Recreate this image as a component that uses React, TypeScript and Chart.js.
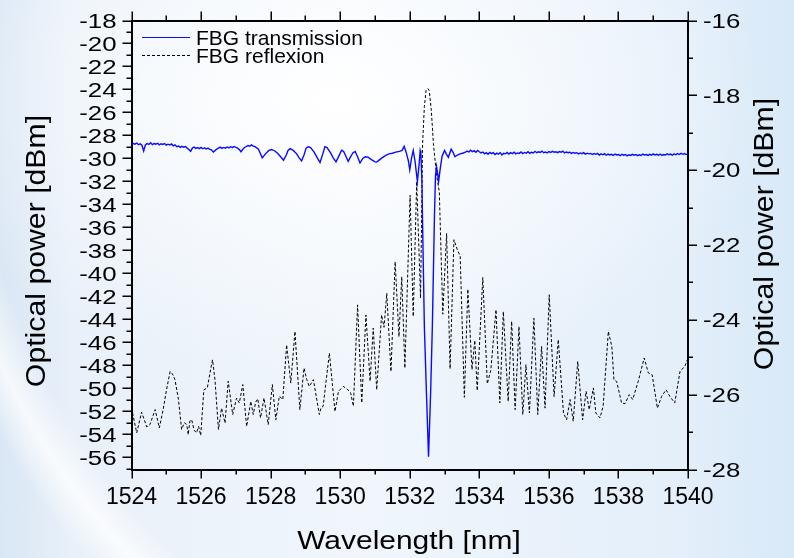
import React, { useEffect, useRef } from "react";
import { Chart, registerables } from "chart.js";

Chart.register(...registerables);

// ---- data ----
const transWl = [
  1524.0, 1524.05, 1524.1, 1524.15, 1524.2, 1524.25, 1524.3, 1524.35, 1524.4, 1524.45,
  1524.5, 1524.55, 1524.6, 1524.65, 1524.7, 1524.75, 1524.8, 1524.85, 1524.9, 1524.95,
  1525.0, 1525.05, 1525.1, 1525.15, 1525.2, 1525.25, 1525.3, 1525.35, 1525.4, 1525.45,
  1525.5, 1525.55, 1525.6, 1525.65, 1525.7, 1525.75, 1525.8, 1525.85, 1525.9, 1525.95,
  1526.0, 1526.05, 1526.1, 1526.15, 1526.2, 1526.25, 1526.3, 1526.35, 1526.4, 1526.45,
  1526.5, 1526.55, 1526.6, 1526.65, 1526.7, 1526.75, 1526.8, 1526.85, 1526.9, 1526.95,
  1527.0, 1527.05, 1527.1, 1527.15, 1527.2, 1527.25, 1527.3, 1527.35, 1527.4, 1527.45,
  1527.5, 1527.55, 1527.65, 1527.76, 1527.85, 1527.95,
  1528.03, 1528.12, 1528.2, 1528.3, 1528.37, 1528.45, 1528.5, 1528.56, 1528.65, 1528.75, 1528.82, 1528.89, 1528.96,
  1529.02, 1529.08, 1529.15, 1529.25, 1529.35, 1529.42, 1529.5, 1529.56, 1529.62, 1529.72, 1529.8, 1529.88, 1529.96,
  1530.04, 1530.1, 1530.17, 1530.23, 1530.3, 1530.37, 1530.43, 1530.5, 1530.57, 1530.65, 1530.72, 1530.8, 1530.9,
  1531.0, 1531.05, 1531.12, 1531.2, 1531.3, 1531.4, 1531.5, 1531.6, 1531.7, 1531.78, 1531.84, 1531.9, 1531.96,
  1532.0, 1532.05, 1532.1, 1532.15, 1532.22, 1532.27, 1532.3, 1532.32, 1532.35, 1532.37, 1532.42, 1532.48, 1532.54,
  1532.6, 1532.65, 1532.71, 1532.74, 1532.77, 1532.8, 1532.83, 1532.88, 1532.93, 1533.0, 1533.05, 1533.11, 1533.19,
  1533.25, 1533.3, 1533.37, 1533.45, 1533.52,
  1533.6, 1533.65, 1533.7, 1533.75, 1533.8, 1533.85, 1533.9, 1533.95,
  1534.0, 1534.05, 1534.1, 1534.15, 1534.2, 1534.25, 1534.3, 1534.35, 1534.4, 1534.45,
  1534.5, 1534.55, 1534.6, 1534.65, 1534.7, 1534.75, 1534.8, 1534.85, 1534.9, 1534.95,
  1535.0, 1535.05, 1535.1, 1535.15, 1535.2, 1535.25, 1535.3, 1535.35, 1535.4, 1535.45,
  1535.5, 1535.55, 1535.6, 1535.65, 1535.7, 1535.75, 1535.8, 1535.85, 1535.9, 1535.95,
  1536.0, 1536.05, 1536.1, 1536.15, 1536.2, 1536.25, 1536.3, 1536.35, 1536.4, 1536.45,
  1536.5, 1536.55, 1536.6, 1536.65, 1536.7, 1536.75, 1536.8, 1536.85, 1536.9, 1536.95,
  1537.0, 1537.05, 1537.1, 1537.15, 1537.2, 1537.25, 1537.3, 1537.35, 1537.4, 1537.45,
  1537.5, 1537.55, 1537.6, 1537.65, 1537.7, 1537.75, 1537.8, 1537.85, 1537.9, 1537.95,
  1538.0, 1538.05, 1538.1, 1538.15, 1538.2, 1538.25, 1538.3, 1538.35, 1538.4, 1538.45,
  1538.5, 1538.55, 1538.6, 1538.65, 1538.7, 1538.75, 1538.8, 1538.85, 1538.9, 1538.95,
  1539.0, 1539.05, 1539.1, 1539.15, 1539.2, 1539.25, 1539.3, 1539.35, 1539.4, 1539.45,
  1539.5, 1539.55, 1539.6, 1539.65, 1539.7, 1539.75, 1539.8, 1539.85, 1539.9, 1539.95, 1540.0,
];
const transDb = [
  -28.78, -28.7, -28.76, -28.66, -28.8, -28.72, -28.85, -29.35, -28.82, -28.7,
  -28.78, -28.64, -28.8, -28.7, -28.76, -28.68, -28.82, -28.72, -28.78, -28.7,
  -28.84, -28.76, -28.82, -28.74, -28.9, -28.82, -28.98, -28.92, -29.04, -28.95,
  -29.02, -28.96, -29.1, -29.22, -29.38, -29.1, -29.02, -29.12, -29.05, -29.14,
  -29.04, -29.16, -29.08, -29.18, -29.1, -29.22, -29.26, -29.45, -29.32, -29.18,
  -29.1, -29.02, -29.12, -29.04, -29.1, -29.0, -29.08, -28.98, -29.06, -28.96,
  -29.04, -29.1, -29.22, -29.42, -29.2, -29.05, -28.96, -28.88, -28.94, -28.82,
  -28.92, -28.98, -29.2, -29.95, -29.6, -29.3,
  -29.22, -29.35, -29.55, -29.9, -30.15, -29.7, -29.3, -29.15, -29.3, -29.6, -29.95, -30.22, -29.7,
  -29.1, -28.98, -29.05, -29.45, -30.0, -30.35, -29.6, -28.98, -29.05, -29.5, -29.95, -30.3, -29.8,
  -29.28, -29.4, -29.85, -30.25, -29.85, -29.5, -29.4, -29.85, -30.4, -30.0, -29.85, -29.88, -30.1,
  -30.3, -30.32, -30.15, -29.95, -29.75, -29.6, -29.55, -29.45, -29.38, -29.3, -28.95, -29.5, -30.2,
  -31.0, -30.0, -29.3, -30.2, -32.0, -30.5, -29.3, -29.5, -32.0, -35.9, -44.6, -50.4, -55.95,
  -50.4, -44.6, -35.0, -31.5, -30.7, -31.3, -32.0, -30.8, -29.8, -29.3, -29.6, -29.9, -29.2,
  -29.5, -29.85, -29.7, -29.6, -29.55,
  -29.45, -29.36, -29.44, -29.28, -29.4, -29.32, -29.46, -29.3,
  -29.42, -29.52, -29.44, -29.6, -29.5, -29.64, -29.48, -29.58, -29.5, -29.66,
  -29.54, -29.62, -29.5, -29.7, -29.56, -29.6, -29.48, -29.62, -29.5, -29.58,
  -29.46, -29.6, -29.52, -29.56, -29.44, -29.58, -29.48, -29.54, -29.42, -29.56,
  -29.46, -29.52, -29.38, -29.5, -29.42, -29.48, -29.36, -29.5, -29.44, -29.52,
  -29.4, -29.48, -29.38, -29.46, -29.42, -29.5, -29.4, -29.46, -29.36, -29.52,
  -29.44, -29.5, -29.46, -29.56, -29.48, -29.54, -29.5, -29.6, -29.52, -29.58,
  -29.5, -29.62, -29.54, -29.6, -29.56, -29.66, -29.58, -29.64, -29.56, -29.7,
  -29.6, -29.68, -29.58, -29.72, -29.62, -29.7, -29.64, -29.74, -29.62, -29.7,
  -29.66, -29.76, -29.64, -29.72, -29.66, -29.78, -29.68, -29.74, -29.64, -29.72,
  -29.66, -29.76, -29.68, -29.74, -29.62, -29.7, -29.66, -29.74, -29.64, -29.72,
  -29.6, -29.7, -29.64, -29.72, -29.62, -29.74, -29.66, -29.7, -29.6, -29.68,
  -29.62, -29.72, -29.6, -29.68, -29.58, -29.66, -29.56, -29.64, -29.58, -29.66, -29.6,
];

const reflWl = [
  1524.03, 1524.15, 1524.29, 1524.44, 1524.53, 1524.68, 1524.8, 1524.91, 1525.0, 1525.11, 1525.18,
  1525.25, 1525.35, 1525.44, 1525.52, 1525.59, 1525.63, 1525.68, 1525.73, 1525.8, 1525.87, 1525.93,
  1525.99, 1526.08, 1526.18, 1526.28, 1526.33, 1526.4, 1526.5, 1526.59, 1526.69, 1526.78, 1526.91,
  1527.02, 1527.1, 1527.2, 1527.31, 1527.43, 1527.5, 1527.57, 1527.63, 1527.71, 1527.81, 1527.93,
  1528.05, 1528.15, 1528.25, 1528.35, 1528.46, 1528.58, 1528.7, 1528.84, 1528.96, 1529.04, 1529.11,
  1529.23, 1529.4, 1529.45, 1529.51, 1529.69, 1529.85, 1529.95, 1530.09, 1530.2, 1530.3, 1530.38,
  1530.5, 1530.62, 1530.74, 1530.86, 1530.95, 1531.05, 1531.19, 1531.26, 1531.34, 1531.46, 1531.58,
  1531.69, 1531.77, 1531.86, 1532.01, 1532.1, 1532.2, 1532.31, 1532.37, 1532.42, 1532.47, 1532.52,
  1532.56, 1532.62, 1532.68, 1532.77, 1532.85, 1532.95, 1533.06, 1533.16, 1533.27, 1533.37, 1533.45,
  1533.57, 1533.67, 1533.79, 1533.87, 1533.94, 1534.1, 1534.23, 1534.33, 1534.48, 1534.59, 1534.69,
  1534.83, 1534.93, 1535.03, 1535.14, 1535.25, 1535.34, 1535.44, 1535.57, 1535.68, 1535.79, 1535.89,
  1536.01, 1536.15, 1536.27, 1536.42, 1536.51, 1536.61, 1536.7, 1536.83, 1536.97, 1537.07, 1537.16,
  1537.28, 1537.35, 1537.47, 1537.56, 1537.71, 1537.81, 1537.87, 1537.95, 1538.09, 1538.19, 1538.31,
  1538.41, 1538.57, 1538.74, 1538.86, 1538.97, 1539.12, 1539.24, 1539.37, 1539.48, 1539.62, 1539.77,
  1539.91, 1539.98,
];
const reflDb = [
  -26.49, -27.02, -26.47, -26.86, -26.8, -26.4, -26.89, -26.4, -25.9, -25.38, -25.45,
  -25.6, -26.13, -26.93, -26.75, -26.8, -27.07, -26.7, -26.67, -26.95, -27.02, -26.85,
  -27.09, -25.87, -25.82, -25.3, -25.07, -25.6, -26.93, -26.36, -26.76, -25.64, -26.53,
  -26.09, -26.22, -25.73, -26.85, -26.18, -26.53, -26.2, -26.11, -26.62, -26.09, -26.8,
  -25.73, -26.67, -26.04, -26.13, -24.67, -25.69, -24.31, -26.4, -25.29, -25.6, -25.78,
  -25.6, -26.53, -26.35, -26.31, -24.89, -26.45, -25.91, -25.78, -25.85, -25.95, -26.31,
  -23.6, -26.22, -23.87, -25.64, -24.22, -25.87, -23.87, -24.2, -23.29, -25.38, -22.45,
  -24.45, -22.85, -25.29, -20.67, -23.91, -20.31, -23.42, -19.29, -18.3, -17.87, -17.82,
  -17.87, -18.4, -19.29, -20.13, -20.58, -23.85, -21.69, -25.31, -21.86, -22.13, -22.3,
  -26.07, -23.18, -25.33, -24.55, -25.89, -22.87, -25.71, -25.35, -23.73, -26.22, -23.78,
  -26.18, -24.04, -26.4, -24.18, -26.53, -25.2, -26.49, -23.96, -26.53, -24.71, -26.36,
  -23.33, -26.05, -24.53, -26.49, -26.67, -26.13, -26.71, -25.11, -26.67, -25.91, -26.4,
  -25.82, -26.49, -26.62, -26.31, -24.31, -24.71, -25.6, -25.65, -26.22, -26.24, -26.0,
  -26.13, -25.64, -25.02, -25.42, -25.47, -26.36, -26.05, -25.87, -26.05, -26.22, -25.38,
  -25.24, -25.07,
];

const seriesNames = ["FBG transmission", "FBG reflexion"];
const xTitle = "Wavelength [nm]";
const yTitle = "Optical power [dBm]";
const xMin = 1524, xMax = 1540;
const yLeftMin = -57.06, yLeftMax = -18;
const yRightMin = -28, yRightMax = -16;

const FONT = '"Liberation Sans", Arial, sans-serif';
const BLUE = "#0a0aff";

function stretchedText(ctx: CanvasRenderingContext2D, text: string, x: number, y: number, sx: number, align: CanvasTextAlign, rot = 0) {
  ctx.save();
  ctx.translate(x, y);
  if (rot) ctx.rotate(rot);
  ctx.scale(sx, 1);
  ctx.textAlign = align;
  ctx.textBaseline = "alphabetic";
  ctx.fillText(text, 0, 0);
  ctx.restore();
}

const decorPlugin = {
  id: "decor",
  afterDraw(chart: any) {
    const ctx: CanvasRenderingContext2D = chart.ctx;
    const a = chart.chartArea;
    const sx = chart.scales.x, sx2 = chart.scales.x2, sy = chart.scales.y, sy2 = chart.scales.y2;
    ctx.save();
    ctx.strokeStyle = "#000";
    ctx.fillStyle = "#000";
    ctx.lineWidth = 1.5;
    ctx.beginPath();
    for (let v = xMin; v <= xMax; v++) {
      const major = v % 2 === 0;
      const len = major ? 9 : 5;
      const px = Math.round(sx.getPixelForValue(v)) + 0.25;
      ctx.moveTo(px, a.bottom);
      ctx.lineTo(px, a.bottom + len);
      const px2 = Math.round(sx2.getPixelForValue(v)) + 0.25;
      ctx.moveTo(px2, a.top);
      ctx.lineTo(px2, a.top - len);
    }
    for (let v = -18; v >= -57; v--) {
      const major = v % 2 === 0;
      const len = major ? 9 : 5;
      const py = Math.round(sy.getPixelForValue(v)) + 0.25;
      ctx.moveTo(a.left - len, py);
      ctx.lineTo(a.left, py);
    }
    for (let v = -16; v >= -28; v--) {
      const major = v % 2 === 0;
      const len = major ? 9 : 5;
      const py = Math.round(sy2.getPixelForValue(v)) + 0.25;
      ctx.moveTo(a.right, py);
      ctx.lineTo(a.right + len, py);
    }
    ctx.stroke();

    // tick labels
    ctx.font = `23px ${FONT}`;
    for (let v = xMin; v <= xMax; v += 2) {
      stretchedText(ctx, String(v), sx.getPixelForValue(v), 504, 1, "center");
    }
    ctx.font = `20px ${FONT}`;
    for (let v = -18; v >= -56; v -= 2) {
      stretchedText(ctx, String(v), 116.5, sy.getPixelForValue(v) + 7.2, 1.29, "right");
    }
    for (let v = -16; v >= -28; v -= 2) {
      stretchedText(ctx, String(v), 703, sy2.getPixelForValue(v) + 7.2, 1.29, "left");
    }

    // axis titles
    ctx.font = `26.5px ${FONT}`;
    stretchedText(ctx, xTitle, 409, 549, 1.13, "center");
    ctx.font = `27px ${FONT}`;
    stretchedText(ctx, yTitle, 45, 251, 1.12, "center", -Math.PI / 2);
    stretchedText(ctx, yTitle, 773, 234, 1.12, "center", -Math.PI / 2);

    // legend
    ctx.lineWidth = 1.2;
    ctx.strokeStyle = BLUE;
    ctx.beginPath();
    ctx.moveTo(142, 37.5);
    ctx.lineTo(190, 37.5);
    ctx.stroke();
    ctx.lineWidth = 1;
    ctx.strokeStyle = "#000";
    ctx.setLineDash([3, 2]);
    ctx.beginPath();
    ctx.moveTo(142, 55.5);
    ctx.lineTo(190, 55.5);
    ctx.stroke();
    ctx.setLineDash([]);
    ctx.font = `21px ${FONT}`;
    stretchedText(ctx, seriesNames[0], 196, 45, 1, "left");
    stretchedText(ctx, seriesNames[1], 196, 62.7, 1, "left");
    ctx.restore();
  },
};

export default function App() {
  const ref = useRef<HTMLCanvasElement | null>(null);
  useEffect(() => {
    if (!ref.current) return;
    const hidden = { display: false };
    const chart = new Chart(ref.current, {
      type: "line",
      data: {
        datasets: [
          {
            label: seriesNames[0],
            data: transWl.map((w, i) => ({ x: w, y: transDb[i] })),
            borderColor: BLUE,
            borderWidth: 1.4,
            pointRadius: 0,
            tension: 0,
            yAxisID: "y",
            xAxisID: "x",
          },
          {
            label: seriesNames[1],
            data: reflWl.map((w, i) => ({ x: w, y: reflDb[i] })),
            borderColor: "#000",
            borderWidth: 1,
            borderDash: [3, 2],
            pointRadius: 0,
            tension: 0,
            yAxisID: "y2",
            xAxisID: "x",
          },
        ],
      },
      options: {
        responsive: false,
        maintainAspectRatio: false,
        devicePixelRatio: 1,
        animation: false,
        events: [],
        layout: { padding: 0 },
        plugins: { legend: hidden, tooltip: { enabled: false }, title: hidden },
        scales: {
          x: {
            type: "linear", position: "bottom", min: xMin, max: xMax,
            ticks: hidden, grid: hidden, title: hidden,
            border: { display: true, color: "#000", width: 2 },
            afterFit: (s: any) => { s.height = 88.5; },
          },
          x2: {
            type: "linear", position: "top", min: xMin, max: xMax,
            ticks: hidden, grid: hidden, title: hidden,
            border: { display: true, color: "#000", width: 2 },
            afterFit: (s: any) => { s.height = 20.5; },
          },
          y: {
            type: "linear", position: "left", min: yLeftMin, max: yLeftMax,
            ticks: hidden, grid: hidden, title: hidden,
            border: { display: true, color: "#000", width: 2 },
            afterFit: (s: any) => { s.width = 131.5; },
          },
          y2: {
            type: "linear", position: "right", min: yRightMin, max: yRightMax,
            ticks: hidden, grid: hidden, title: hidden,
            border: { display: true, color: "#000", width: 2 },
            afterFit: (s: any) => { s.width = 106; },
          },
        },
      } as any,
      plugins: [decorPlugin],
    });
    return () => chart.destroy();
  }, []);

  return (
    <div
      style={{
        position: "fixed",
        left: 0,
        top: 0,
        width: 794,
        height: 558,
        background:
          "radial-gradient(circle 720px at 630px 80px, rgba(255,255,255,0) 655px, rgba(255,255,255,0.75) 690px, rgba(255,255,255,0) 725px)," +
          "radial-gradient(ellipse 55% 50% at 42% 18%, rgba(255,255,255,1) 0%, rgba(255,255,255,0) 100%)," +
          "linear-gradient(to right, #d9e6f4 0%, #e8f0f9 9%, #f0f6fc 45%, #e4effa 85%, #d8e9f8 100%)",
      }}
    >
      <canvas ref={ref} width={794} height={558} style={{ display: "block" }} />
    </div>
  );
}
